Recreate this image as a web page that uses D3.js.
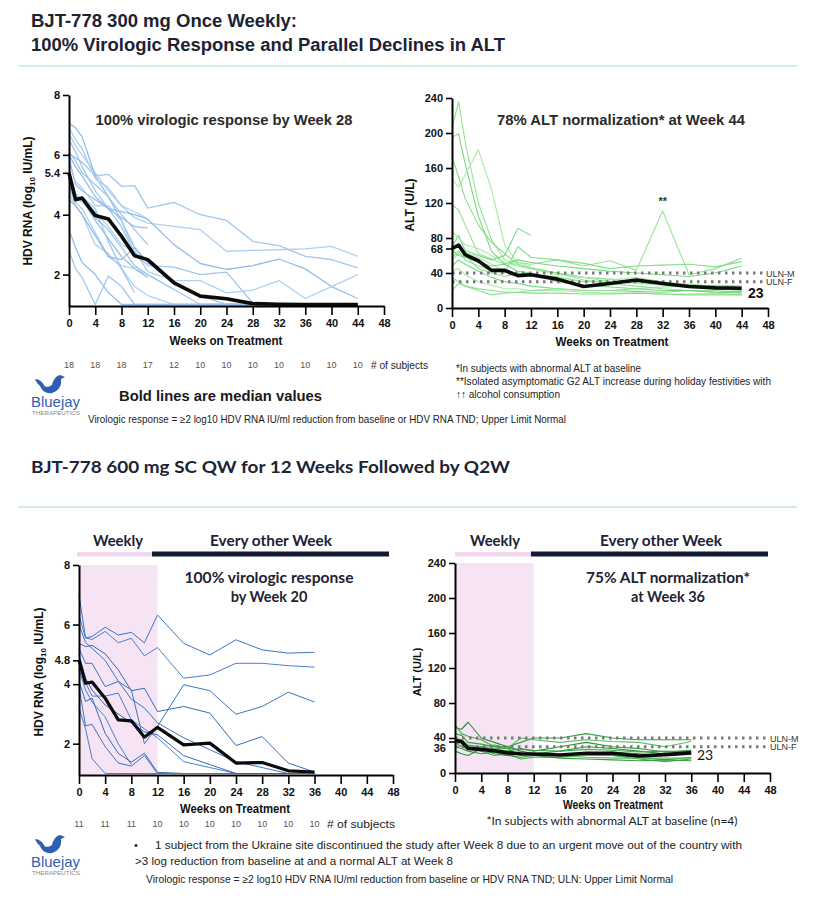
<!DOCTYPE html>
<html><head><meta charset="utf-8">
<script src="https://cdn.jsdelivr.net/npm/d3@7"></script>
<style>body{margin:0;background:#fff}svg{display:block}</style>
</head><body>
<svg id="c" width="822" height="899"></svg>
<script>
// ---------------- DATA ----------------
const weeks300 = [0,1,2,4,6,8,10,12,16,20,24,28,32,36,40,44];
const hdv300Subjects = [
  [6.05,5.9,5.75,5.3,5.35,4.95,4.97,4.22,4.41,4.0,3.81,3.11,2.97,2.61,2.5,2.22],
  [6.7,6.3,6.0,5.4,4.8,4.3,3.9,3.72,3.61,3.5,2.78,2.81,2.83,2.86,2.94,2.61],
  [5.9,5.0,4.8,4.5,4.2,4.1,4.0,3.85,3.0,2.37,2.17,2.3,2.52,2.19,1.6,1.2],
  [6.5,6.1,5.6,4.8,4.2,3.6,2.7,2.3,2.25,2.0,2.08,1.05,1.0,1.0,1.0,1.0],
  [5.2,4.6,4.4,4.1,3.6,3.0,2.8,2.1,1.8,1.8,1.39,1.48,1.8,1.2,1.6,2.0],
  [7.06,6.9,6.6,5.3,4.6,3.8,2.9,2.4,1.7,1.3,1.0,1.0,1.0,1.0,1.0,1.0],
  [5.45,4.7,4.5,3.9,3.5,2.9,2.3,2.0,1.5,1.0,1.0,1.0,1.0,1.0,1.0,1.0],
  [4.7,4.3,4.0,3.0,2.7,2.2,1.6,1.3,1.0,1.0,1.0,1.0,1.0,1.0,1.0,1.0],
  [3.5,2.9,2.4,2.0,1.4,1.0,1.0,1.0,1.0,1.0,1.0,1.0,1.0,1.0,1.0,1.0],
  [2.8,2.2,1.9,1.0,1.95,1.6,1.0,1.0,1.0,1.0,1.0,1.0,1.0,1.0,1.0,1.0],
  [6.9,6.5,6.2,5.2,4.9,4.3,4.1,3.86],
  [6.0,5.6,5.3,4.6,4.2,3.9,3.6,3.56],
  [6.1,5.8,5.4,5.0,4.6,4.0,3.5,3.0],
  [5.7,5.1,4.9,4.3,4.3,3.8,2.7,2.5],
  [5.35,4.6,4.5,3.8,3.2,2.6,2.2,1.9],
  [5.0,4.5,4.6,4.2,3.1,2.2,1.4],
  [4.9,4.4,4.2,3.4,2.6,2.3,2.2,2.0,1.5],
  [4.5,4.3,4.0,3.3,2.6,2.5,2.9,2.4,1.8]
];
const hdv300Median = [5.4,4.5,4.56,3.97,3.86,3.28,2.63,2.5,1.72,1.28,1.19,1.03,1.01,1.0,1.0,1.0];

const alt300Subjects = [
  [205,236,190,120,78,55,48,45,40,32,28,25,22,20,20,18],
  [195,199,165,105,65,50,42,40,30,26,24,22,20,20,18,17],
  [148,138,152,181,136,72,52,48],
  [173,150,125,95,75,62,50,46,40,35,33,30,28,27,25,24],
  [118,112,95,62,56,50,52,50,55,48,54,43,111,38,45,57],
  [70,83,66,60,55,60,91,83],
  [62,72,64,58,50,42,40,38,36,30,32,35,30,26,25,23],
  [58,65,55,48,44,40,70,58,55,51,45,48,49,50,47,53],
  [55,62,60,45,40,36,40,38,35,30,30,29,27,25,26,25],
  [48,55,50,42,35,30,28,25,22,20,20,19,18,20,18,19],
  [42,45,38,30,26,22,22,20,20,18,17,17,16,16,17,15],
  [35,30,25,22,20,18,18,17,17,16,16,17,16,15,15,15],
  [20,28,25,20,15,17,18,20,22,20,20,22,24,25,22,20],
  [66,60,58,52,48,50,55,52,48,45,42,40,38,36,40,48],
  [88,80,72,68,60,52,48,45,38,35,30,28,26,24,22,22]
];
const alt300Median = [68,72,61,54,43,43,37,38,33,24.5,28,32,28,24.5,23,22.5];

const weeks600 = [0,1,2,4,6,8,10,12,16,20,24,28,32,36];
const hdv600Subjects = [
  [7.0,5.55,5.6,5.91,5.65,5.74,5.39,6.32,5.37,4.98,5.49,5.15,5.04,5.07],
  [6.3,5.56,5.5,5.77,5.39,5.54,4.95,5.23,4.2,4.31,4.7,4.7,4.62,4.57],
  [5.37,5.26,5.3,5.02,4.48,3.78,3.86,3.08,3.25,3.03,1.94,2.24,1.35,1.05],
  [5.2,4.7,4.7,3.92,4.09,3.81,2.0,2.58,3.98,3.78,2.99,3.25,3.73,3.4],
  [4.81,4.05,3.6,3.6,3.7,2.8,2.5,2.2,1.4,1.2,1.0,1.0,1.0,1.0],
  [4.09,3.42,3.53,2.35,1.68,1.38,1.68,1.04,1.0,1.0,1.0,1.0,1.0,1.0],
  [3.9,2.6,2.65,1.9,1.35,1.25,1.6,1.0,1.0,1.0,1.0,1.0,1.0,1.0],
  [3.2,2.5,1.5,1.0,1.0,1.0,1.0,1.0,1.0,1.0,1.0,1.0,1.0,1.0],
  [5.0,4.2,3.8,3.3,3.0,2.7,2.4,2.3,1.6,1.3,1.0,1.0,1.0,1.0],
  [6.0,5.4,5.2,4.8,4.1,3.5,3.2,2.7,2.2,1.8,1.4,1.2,1.0,1.0],
  [4.5,3.8,3.4,2.9,2.0,1.3]
];
const hdv600Median = [4.81,4.03,4.07,3.53,2.80,2.77,2.22,2.55,1.96,2.02,1.35,1.37,1.09,1.05];

const alt600Subjects = [
  [52,50,58,40,35,30,25,22,25,30,28,25,22,25],
  [55,45,42,38,30,28,20,22,20,22,20,18,15,18],
  [45,43,35,33,30,30,35,40,40,45,40,38,38,38],
  [40,38,32,30,28,28,40,38,35,38,36,35,30,36],
  [38,36,30,28,26,25,28,25,30,35,30,28,24,26],
  [35,30,28,25,20,22,16,18,18,20,20,16,13,16],
  [30,28,25,22,24,20,18,20,17,16,15,14,15,14],
  [28,32,30,25,28,25,22,22,20,18,17,17,17,17],
  [25,22,20,28,22,20,22,20,21,22,24,22,20,22],
  [33,35,31,30,32,28,27,26,25,27,26,24,25,24]
];
const alt600Median = [37,36,28,27,25.5,23,22,21.7,20.6,22.5,22.5,19.4,21,23];

const subjects300 = [18,18,18,17,12,10,10,10,10,10,10,10];
const subjects600 = [11,11,11,10,10,10,10,10,10,10];
const weekTicks = [0,4,8,12,16,20,24,28,32,36,40,44,48];
const hdvTicks300 = [2,4,5.4,6,8];
const hdvTicks600 = [2,4,4.8,6,8];
const altTicks300 = [0,40,68,80,120,160,200,240];
const altTicks600 = [0,36,40,80,120,160,200,240];
const ulnValues = [40,30];
const ulnLabels = ["ULN-M","ULN-F"];

// ---------------- DRAW ----------------
const svg = d3.select('#c');
const ARIAL = "'Liberation Sans', Arial, sans-serif";
const NARROW = "'Liberation Sans Narrow', 'Liberation Sans', Arial, sans-serif";
const LATO = "Lato, 'Open Sans', sans-serif";

function T(x, y, s, o = {}) {
  const t = svg.append('text').attr('x', x).attr('y', y).text(s)
    .attr('font-family', o.f || ARIAL).attr('font-size', o.s || 11)
    .attr('font-weight', o.w || 'normal').attr('fill', o.c || '#222')
    .attr('text-anchor', o.a || 'start');
  if (o.len) t.attr('textLength', o.len).attr('lengthAdjust', 'spacingAndGlyphs');
  return t;
}

// Headers
T(31, 27, 'BJT-778 300 mg Once Weekly:', {f: NARROW, s: 18, w: 'bold', c: '#1c2333', len: 266});
T(31, 51, '100% Virologic Response and Parallel Declines in ALT', {f: NARROW, s: 18, w: 'bold', c: '#1c2333', len: 474});
svg.append('line').attr('x1', 18).attr('x2', 797).attr('y1', 66).attr('y2', 66).attr('stroke', '#d6eaf2').attr('stroke-width', 2);
T(31, 473, 'BJT-778 600 mg SC QW for 12 Weeks Followed by Q2W', {f: LATO, s: 17, w: 'bold', c: '#1c2333', len: 479});
svg.append('line').attr('x1', 18).attr('x2', 797).attr('y1', 507).attr('y2', 507).attr('stroke', '#c7e0e8').attr('stroke-width', 1.5);

function panel(cfg) {
  const x = d3.scaleLinear().domain([0, 48]).range([cfg.x0, cfg.x1]);
  const y = d3.scaleLinear().domain(cfg.dom).range([cfg.yBot, cfg.yTop]);
  const g = svg.append('g');
  if (cfg.shade) {
    g.append('rect').attr('x', x(0)).attr('y', y(cfg.dom[1])).attr('width', x(12) - x(0))
      .attr('height', y(cfg.dom[0]) - y(cfg.dom[1])).attr('fill', '#f6e4f5');
  }
  const line = d3.line().defined(d => d[1] != null).x(d => x(d[0])).y(d => y(d[1]));
  cfg.subjects.forEach((s, i) => {
    const pts = cfg.weeks.map((w, j) => [w, s[j] == null ? null : s[j]]).filter(d => d[1] != null);
    g.append('path').attr('d', line(pts)).attr('fill', 'none')
      .attr('stroke', cfg.colors[i % cfg.colors.length]).attr('stroke-width', cfg.lw)
      .attr('stroke-opacity', cfg.op).attr('stroke-linejoin', 'round');
  });
  if (cfg.uln) {
    ulnValues.forEach((v, i) => {
      g.append('line').attr('x1', x(0)).attr('x2', cfg.ulnEnd).attr('y1', y(v)).attr('y2', y(v))
        .attr('stroke', '#7a7a7a').attr('stroke-width', 2.8).attr('stroke-dasharray', '2.5,4.5');
      g.append('text').attr('x', cfg.ulnEnd + 3).attr('y', y(v) + 3.5).text(ulnLabels[i])
        .attr('font-family', ARIAL).attr('font-size', 9).attr('fill', '#333');
    });
  }
  const mPts = cfg.weeks.map((w, j) => [w, cfg.median[j]]);
  g.append('path').attr('d', line(mPts)).attr('fill', 'none').attr('stroke', '#0b0b0b')
    .attr('stroke-width', cfg.mw).attr('stroke-linejoin', 'round');

  // axes
  const xa = g.append('g').attr('transform', `translate(0,${cfg.yBot})`)
    .call(d3.axisBottom(x).tickValues(weekTicks).tickSize(9).tickPadding(4).tickSizeOuter(0));
  const ya = g.append('g').attr('transform', `translate(${cfg.x0},0)`)
    .call(d3.axisLeft(y).tickValues(cfg.ticks).tickSize(6).tickPadding(3).tickSizeOuter(0).tickFormat(d => d));
  [xa, ya].forEach(a => {
    a.select('.domain').attr('stroke', '#000').attr('stroke-width', 2);
    a.selectAll('.tick line').attr('stroke', '#000').attr('stroke-width', 1.6);
    a.selectAll('.tick text').attr('font-family', ARIAL).attr('font-size', 11)
      .attr('font-weight', 'bold').attr('fill', '#111');
  });
  if (cfg.fix) cfg.fix(ya);
  return {x, y};
}

const p1 = panel({x0: 69, x1: 384, yTop: 95, yBot: 306, dom: [0.95, 8], ticks: hdvTicks300,
  weeks: weeks300, subjects: hdv300Subjects, median: hdv300Median,
  colors: ['#97c1ea', '#a6cbee', '#8ab6e4'], lw: 1.3, op: 0.9, mw: 3.6});
const p2 = panel({x0: 452, x1: 768, yTop: 98, yBot: 308, dom: [0, 240], ticks: altTicks300,
  weeks: weeks300, subjects: alt300Subjects, median: alt300Median,
  colors: ['#8ee28e', '#6fd47a', '#a4e9a4', '#7edc82'], lw: 1.1, op: 0.95, mw: 3.6,
  uln: true, ulnEnd: 763});
const p3 = panel({x0: 79, x1: 393, yTop: 565, yBot: 775, dom: [0.95, 8], ticks: hdvTicks600,
  weeks: weeks600, subjects: hdv600Subjects, median: hdv600Median,
  colors: ['#2e6fc2', '#3b7bcc', '#2563b8'], lw: 1, op: 0.95, mw: 3.2, shade: true});
const p4 = panel({x0: 455, x1: 770, yTop: 563, yBot: 773, dom: [0, 240], ticks: altTicks600,
  weeks: weeks600, subjects: alt600Subjects, median: alt600Median,
  colors: ['#1f8b2f', '#3aa845', '#2a9a38', '#55b85c'], lw: 1.1, op: 0.95, mw: 3.6,
  uln: true, ulnEnd: 767, shade: true,
  fix: ya => {
    ya.selectAll('.tick').filter(d => d === 36).select('text').attr('dy', '0.95em');
    ya.selectAll('.tick').filter(d => d === 40).select('text').attr('dy', '0.2em');
  }});

// In-plot annotations
T(224, 125, '100% virologic response by Week 28', {s: 14.5, w: 'bold', c: '#2a2a2a', a: 'middle', len: 257});
T(621, 125, '78% ALT normalization* at Week 44', {s: 14.5, w: 'bold', c: '#2a2a2a', a: 'middle', len: 248});
T(p2.x(32), p2.y(111) - 6, '**', {s: 11, w: 'bold', c: '#333', a: 'middle'});
T(748, 298, '23', {s: 14, w: 'bold', c: '#111'});
T(697, 760, '23', {s: 14, w: 'normal', c: '#111', f: LATO});

T(269, 583, '100% virologic response', {f: LATO, s: 14.5, w: 'bold', c: '#1f2230', a: 'middle', len: 169});
T(269, 602, 'by Week 20', {f: LATO, s: 14.5, w: 'bold', c: '#1f2230', a: 'middle'});
T(668, 583, '75% ALT normalization*', {f: LATO, s: 14.5, w: 'bold', c: '#1f2230', a: 'middle', len: 164});
T(668, 602, 'at Week 36', {f: LATO, s: 14.5, w: 'bold', c: '#1f2230', a: 'middle'});

// Dosing bars
function dosing(x0, xm, x1) {
  svg.append('rect').attr('x', x0).attr('y', 552).attr('width', xm - x0).attr('height', 4.5).attr('fill', '#f1d8ef');
  svg.append('rect').attr('x', xm).attr('y', 551.5).attr('width', x1 - xm).attr('height', 5).attr('fill', '#111a2e');
}
dosing(77, 152, 389);
dosing(455, 531, 768);
T(118, 546, 'Weekly', {f: LATO, s: 14.5, w: 'bold', c: '#1b2238', a: 'middle', len: 50});
T(271, 546, 'Every other Week', {f: LATO, s: 14.5, w: 'bold', c: '#1b2238', a: 'middle', len: 122});
T(495, 546, 'Weekly', {f: LATO, s: 14.5, w: 'bold', c: '#1b2238', a: 'middle', len: 50});
T(661, 546, 'Every other Week', {f: LATO, s: 14.5, w: 'bold', c: '#1b2238', a: 'middle', len: 122});

// Axis titles
function hdvLabel(cx, cy) {
  const t = svg.append('text').attr('transform', `translate(${cx},${cy}) rotate(-90)`)
    .attr('text-anchor', 'middle').attr('font-family', ARIAL).attr('font-size', 12)
    .attr('font-weight', 'bold').attr('fill', '#111');
  t.append('tspan').text('HDV RNA (log');
  t.append('tspan').text('10').attr('font-size', 8).attr('dy', 3);
  t.append('tspan').text(' IU/mL)').attr('dy', -3);
}
hdvLabel(32, 201);
hdvLabel(43, 672);
svg.append('text').attr('transform', 'translate(414,205) rotate(-90)').attr('text-anchor', 'middle')
  .attr('font-family', ARIAL).attr('font-size', 12).attr('font-weight', 'bold').attr('fill', '#111').text('ALT (U/L)');
svg.append('text').attr('transform', 'translate(421,672) rotate(-90)').attr('text-anchor', 'middle')
  .attr('font-family', ARIAL).attr('font-size', 11).attr('font-weight', 'bold').attr('fill', '#111').text('ALT (U/L)');

T(226, 345, 'Weeks on Treatment', {f: NARROW, s: 13, w: 'bold', c: '#111', a: 'middle', len: 113});
T(612, 346, 'Weeks on Treatment', {f: NARROW, s: 13, w: 'bold', c: '#111', a: 'middle', len: 113});
T(235, 813, 'Weeks on Treatment', {f: NARROW, s: 13, w: 'bold', c: '#111', a: 'middle', len: 110});
T(613, 809, 'Weeks on Treatment', {f: NARROW, s: 12, w: 'bold', c: '#111', a: 'middle', len: 100});

// Subject counts
subjects300.forEach((n, i) => T(p1.x(i * 4), 368, n, {f: NARROW, s: 9, c: '#555', a: 'middle'}));
T(371, 369, '# of subjects', {f: NARROW, s: 11, c: '#222', len: 57});
subjects600.forEach((n, i) => T(p3.x(i * 4), 827, n, {f: NARROW, s: 9, c: '#555', a: 'middle'}));
T(327, 828, '# of subjects', {f: NARROW, s: 11, c: '#222', len: 68});

// Notes
T(119, 401, 'Bold lines are median values', {f: NARROW, s: 15, w: 'bold', c: '#1a1a1a', len: 203});
T(88, 423, 'Virologic response = \u22652 log10 HDV RNA IU/ml reduction from baseline or HDV RNA TND; Upper Limit Normal', {f: NARROW, s: 10.5, c: '#222', len: 478});
T(456, 372, '*In subjects with abnormal ALT at baseline', {f: NARROW, s: 10.5, c: '#222', len: 185});
T(456, 385, '**Isolated asymptomatic G2 ALT increase during holiday festivities with', {f: NARROW, s: 10.5, c: '#222', len: 315});
T(456, 398, '\u2191\u2191 alcohol consumption', {f: NARROW, s: 10.5, c: '#222', len: 104});

T(612, 825, '*In subjects with abnormal ALT at baseline (n=4)', {f: LATO, s: 12, c: '#222', a: 'middle', len: 251});
T(134, 849, '\u2022', {s: 11, c: '#222'});
T(155, 849, '1 subject from the Ukraine site discontinued the study after Week 8 due to an urgent move out of the country with', {f: NARROW, s: 11, c: '#222', len: 587});
T(135, 865, '>3 log reduction from baseline at and a normal ALT at Week 8', {f: NARROW, s: 11, c: '#222', len: 318});
T(146, 883, 'Virologic response = \u22652 log10 HDV RNA IU/ml reduction from baseline or HDV RNA TND; ULN: Upper Limit Normal', {f: NARROW, s: 10.5, c: '#222', len: 527});

// Logos
function logo(x, y) {
  const g = svg.append('g').attr('transform', `translate(${x},${y})`);
  g.append('path').attr('d', 'M8,10 C12,14 17,15 21,12 C22,7 25,3 29,2 L34,4 L30,6 C31,12 28,18 21,20 C15,21 10,18 8,10 Z').attr('fill', '#2f5fb3');
  g.append('path').attr('d', 'M4,6 C8,6 12,9 14,14 C9,14 6,11 4,6 Z').attr('fill', '#2f5fb3');
  g.append('text').attr('x', 0).attr('y', 34).text('Bluejay').attr('font-family', ARIAL)
    .attr('font-size', 15).attr('fill', '#2f5fb3').attr('textLength', 49).attr('lengthAdjust', 'spacingAndGlyphs');
  g.append('text').attr('x', 1).attr('y', 42).text('THERAPEUTICS').attr('font-family', ARIAL)
    .attr('font-size', 5.5).attr('fill', '#888').attr('textLength', 48).attr('lengthAdjust', 'spacingAndGlyphs');
}
logo(31, 373);
logo(31, 833);
</script>
</body></html>
